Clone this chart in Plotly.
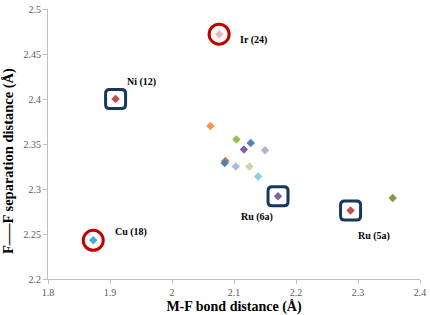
import plotly.graph_objects as go

# Data
names = ["Ir (24)", "Ni (12)", "Cu (18)", "Ru (6a)", "Ru (5a)",
         "p6", "p7", "p8", "p9", "p10", "p11", "p12", "p13", "p14", "p15", "p16"]
mf_bond = [2.076, 1.909, 1.873, 2.171, 2.288,
           2.356, 2.062, 2.104, 2.127, 2.116, 2.150, 2.086, 2.085, 2.103, 2.125, 2.139]
ff_sep = [2.472, 2.400, 2.243, 2.292, 2.276,
          2.290, 2.370, 2.355, 2.351, 2.344, 2.343, 2.331, 2.329, 2.325, 2.325, 2.314]
colors = ["#E6B9B8", "#C0504D", "#4BACC6", "#8064A2", "#C0504D",
          "#7F9A48", "#F79646", "#9BBB59", "#4F81BD", "#8064A2", "#B7B3CF",
          "#D2792E", "#4F81BD", "#A9BCDD", "#C9D6A8", "#93CDDD"]

labelled = ["Ir (24)", "Ni (12)", "Cu (18)", "Ru (6a)", "Ru (5a)"]
circled = ["Ir (24)", "Cu (18)"]
boxed = ["Ni (12)", "Ru (6a)", "Ru (5a)"]
# label offsets in pixels (x shift, y shift) relative to point
label_offsets = {"Ir (24)": (19, -6), "Ni (12)": (9, 17), "Cu (18)": (20, 8),
                 "Ru (6a)": (-39, -21), "Ru (5a)": (5, -25)}

x_ticks = [1.8, 1.9, 2.0, 2.1, 2.2, 2.3, 2.4]
y_ticks = [2.2, 2.25, 2.3, 2.35, 2.4, 2.45, 2.5]
x_title = "M-F bond distance (Å)"
y_title = "F–––F separation distance (Å)"

FONT = "Liberation Serif, Times New Roman, serif"

fig = go.Figure()
fig.add_trace(go.Scatter(
    x=mf_bond, y=ff_sep, mode="markers",
    marker=dict(symbol="diamond", size=6.5, color=colors, line=dict(width=0)),
    hovertext=names, showlegend=False,
))

shapes = []
for n in circled:
    i = names.index(n)
    r = 10
    shapes.append(dict(type="circle", xref="x", yref="y", xsizemode="pixel", ysizemode="pixel",
                       xanchor=mf_bond[i], yanchor=ff_sep[i], x0=-r, x1=r, y0=-r, y1=r,
                       line=dict(color="#C00000", width=3)))

def rrect(w, h, r):
    return (f"M {-w+r},{-h} L {w-r},{-h} Q {w},{-h} {w},{-h+r} L {w},{h-r} Q {w},{h} {w-r},{h} "
            f"L {-w+r},{h} Q {-w},{h} {-w},{h-r} L {-w},{-h+r} Q {-w},{-h} {-w+r},{-h} Z")

for n in boxed:
    i = names.index(n)
    shapes.append(dict(type="path", xref="x", yref="y", xsizemode="pixel", ysizemode="pixel",
                       xanchor=mf_bond[i], yanchor=ff_sep[i], path=rrect(10, 9.5, 4),
                       line=dict(color="#17375E", width=3)))

annotations = []
for n in labelled:
    i = names.index(n)
    dx, dy = label_offsets[n]
    annotations.append(dict(x=mf_bond[i], y=ff_sep[i], xref="x", yref="y", text=f"<b>{n}</b>",
                            showarrow=False, xanchor="left", yanchor="middle",
                            xshift=dx, yshift=dy, font=dict(family=FONT, size=10, color="#000000")))

# y-axis title as rotated annotation (sits a little below the axis centre in the reference)
annotations.append(dict(x=-0.1075, y=0.437, xref="paper", yref="paper", text=f"<b>{y_title}</b>",
                        textangle=-90, showarrow=False, xanchor="center", yanchor="middle",
                        font=dict(family=FONT, size=14.5, color="#000000")))

axis_common = dict(showgrid=False, zeroline=False, showline=True, linecolor="#BFBFBF", linewidth=1,
                   ticks="outside", ticklen=4, tickcolor="#BFBFBF", automargin=False,
                   tickfont=dict(family=FONT, size=10, color="#595959"))

fig.update_layout(
    width=430, height=315, margin=dict(l=48, r=10, t=9, b=36),
    paper_bgcolor="white", plot_bgcolor="white",
    shapes=shapes, annotations=annotations,
    xaxis=dict(range=[1.8, 2.4], tickvals=x_ticks, ticktext=["1.8", "1.9", "2", "2.1", "2.2", "2.3", "2.4"],
               title=dict(text=f"<b>{x_title}</b>", font=dict(family=FONT, size=14, color="#000000"),
                          standoff=4), **axis_common),
    yaxis=dict(range=[2.2, 2.5], tickvals=y_ticks, ticktext=["2.2", "2.25", "2.3", "2.35", "2.4", "2.45", "2.5"],
               **axis_common),
)

fig.write_html("out.html")
